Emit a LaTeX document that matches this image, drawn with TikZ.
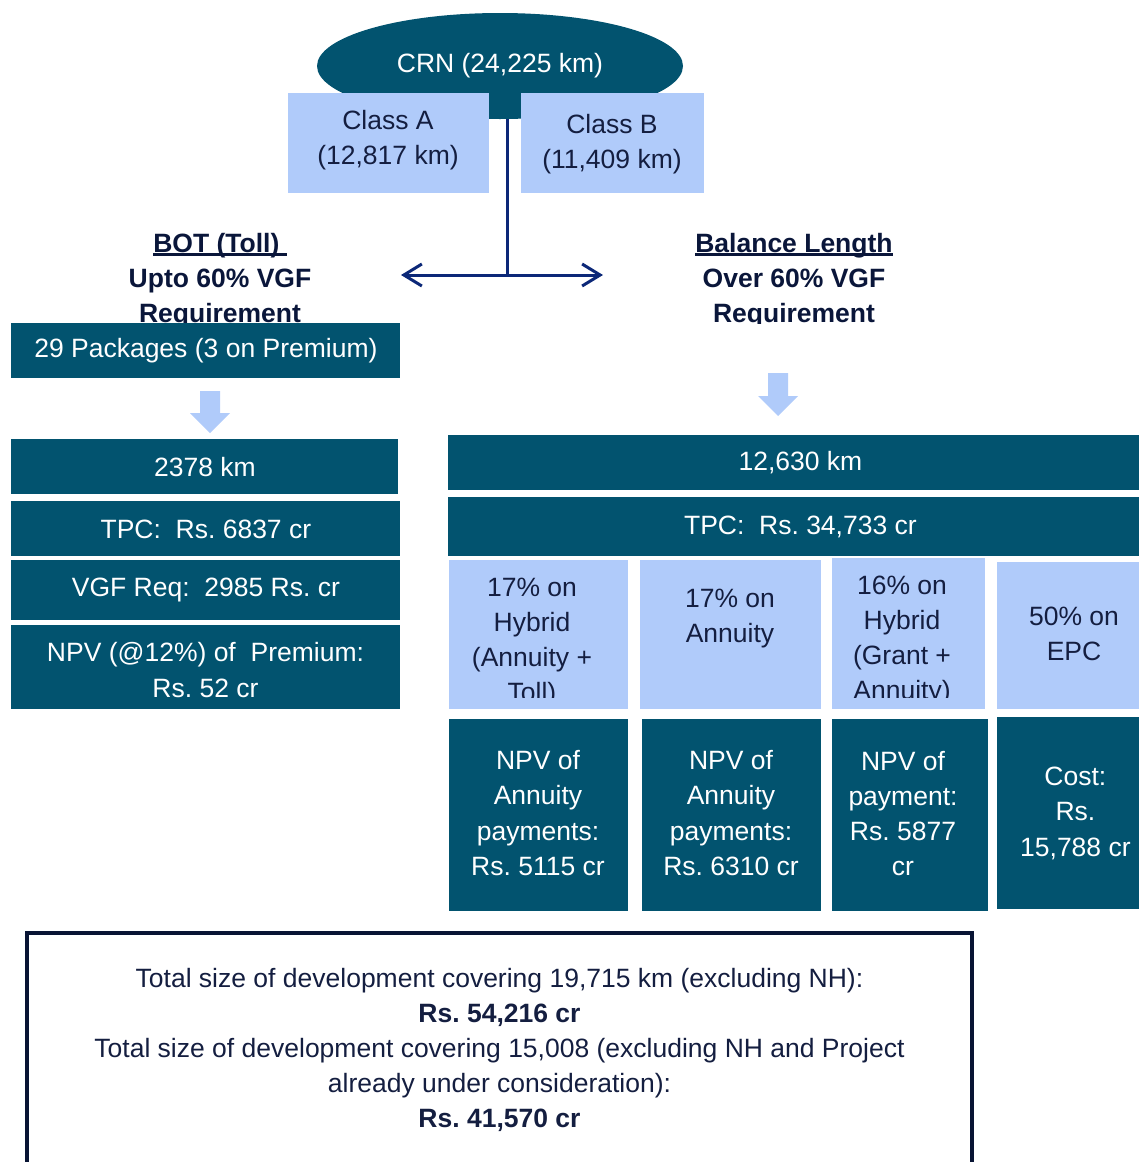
\documentclass[tikz,border=0pt]{standalone}
\usepackage{fontspec}
\setmainfont{Liberation Sans}
\usetikzlibrary{shapes.geometric}
\usetikzlibrary{arrows.meta}

\definecolor{boxteal}{RGB}{2,83,111}
\definecolor{boxblue}{RGB}{176,203,250}
\definecolor{boxtext}{RGB}{20,30,64}
\definecolor{headnavy}{RGB}{10,22,58}
\definecolor{linknavy}{RGB}{12,40,120}
\definecolor{framenavy}{RGB}{8,20,52}

% thick underline for the two headings
\newcommand{\thickul}[1]{\leavevmode\setbox0=\hbox{#1}\rlap{\rule[-2pt]{\wd0}{1.5pt}}\box0}

\begin{document}
\begin{tikzpicture}[
      x=0.5pt, y=-0.5pt,
      every node/.style={font=\fontsize{13.25}{17.6}\selectfont\frenchspacing},
      px_size/.style 2 args={minimum width=#1*0.5pt, minimum height=#2*0.5pt},
      dark_box/.style={rectangle, fill=boxteal, text=white, inner sep=0pt, align=center},
      light_box/.style={rectangle, fill=boxblue, text=boxtext, inner sep=0pt, align=center},
      box_text/.style={text=boxtext, align=center},
      white_text/.style={text=white, align=center},
      head_text/.style={text=headnavy, font=\fontsize{13.25}{17.6}\selectfont\bfseries\frenchspacing, align=center},
      link_line/.style={draw=linknavy, line width=1.5pt},
      block_arrow/.style={fill=boxblue, draw=none}
    ]

    % ------------------------------------------------------------------ %
    % Page frame
    % ------------------------------------------------------------------ %

    \useasboundingbox (0,0) rectangle (1139,1162);
    \clip (0,0) rectangle (1139,1162);

    % ------------------------------------------------------------------ %
    % Network and its two classes
    % ------------------------------------------------------------------ %

    \node[ellipse, fill=boxteal, text=white, inner sep=0pt, px_size={366}{106}] (crn) at (500,66) {CRN (24,225 km)};

    \node[light_box, anchor=north west, px_size={201}{100}] (class_a) at (288,93) {};
    \node[box_text] (class_a_text) at (388,140) {Class A\\(12,817 km)};
    \node[light_box, anchor=north west, px_size={183}{100}] (class_b) at (521,93) {};
    \node[box_text] (class_b_text) at (612,144.5) {Class B\\(11,409 km)};

    % split to both routes
    \coordinate (split) at (507,275);
    \coordinate (to_bot) at (401,275);
    \coordinate (to_bal) at (603,275);
    \draw[link_line] (crn.south -| split) -- (split);
    \draw[link_line, {Straight Barb[length=9pt,width=11pt]}-{Straight Barb[length=9pt,width=11pt]}] (to_bot) -- (to_bal);

    % headings (cut at the top of the package box)
    \begin{scope}
      \clip (0,0) rectangle (1139,323);
      \node[head_text] (bot_head) at (220,280.5) {\thickul{BOT (Toll)\ }\\Upto 60\% VGF\\Requirement};
      \node[head_text] (bal_head) at (794,280.5) {\thickul{Balance Length}\\Over 60\% VGF\\Requirement};
    \end{scope}

    % ------------------------------------------------------------------ %
    % BOT (Toll) column
    % ------------------------------------------------------------------ %

    \node[dark_box, anchor=north west, px_size={389}{55}] (packages) at (11,323) {29 Packages (3 on Premium)};

    \fill[block_arrow] (200,391) -- (220,391) -- (220,413) -- (230,413) -- (210,433) -- (190,413) -- (200,413) -- cycle;

    \node[dark_box, anchor=north west, px_size={387}{55}] (bot_len) at (11,439) {2378 km};
    \node[dark_box, anchor=north west, px_size={389}{55}] (bot_tpc) at (11,501) {TPC:~ Rs. 6837 cr};
    \node[dark_box, anchor=north west, px_size={389}{60}] (bot_vgf) at (11,560) {VGF Req:~ 2985 Rs. cr};
    \node[dark_box, anchor=north west, px_size={389}{84}] (bot_npv) at (11,625) {};
    \node[white_text] (bot_npv_text) at (205.5,670) {NPV (@12\%) of~ Premium:\\Rs. 52 cr};

    % ------------------------------------------------------------------ %
    % Balance length column
    % ------------------------------------------------------------------ %

    \fill[block_arrow] (768,373) -- (788,373) -- (788,396) -- (798,396) -- (778,416) -- (758,396) -- (768,396) -- cycle;

    \node[dark_box, anchor=north west, px_size={704}{55}] (bal_len) at (448,435) {12,630 km};
    \node[dark_box, anchor=north west, px_size={704}{59}] (bal_tpc) at (448,497) {TPC:~ Rs. 34,733 cr};

    % shares
    \node[light_box, anchor=north west, px_size={179}{149}] (share_ht) at (449,560) {};
    \node[light_box, anchor=north west, px_size={181}{149}] (share_an) at (640,560) {};
    \node[light_box, anchor=north west, px_size={153}{151}] (share_ga) at (832,558) {};
    \node[light_box, anchor=north west, px_size={155}{147}] (share_epc) at (997,562) {};
    \node[box_text] (share_epc_text) at (1074,634) {50\% on\\EPC};

    \begin{scope}
      \clip (449,560) rectangle (985,697);
      \node[box_text] (share_ht_text) at (532,642.5) {17\% on\\Hybrid\\(Annuity +\\Toll)};
      \node[box_text] (share_ga_text) at (902,640.5) {16\% on\\Hybrid\\(Grant +\\Annuity)};
    \end{scope}
    \node[box_text] (share_an_text) at (730,618.5) {17\% on\\Annuity};

    % payments
    \node[dark_box, anchor=north west, px_size={179}{192}] (pay_ht) at (449,719) {};
    \node[white_text] (pay_ht_text) at (538,813) {NPV of\\Annuity\\payments:\\Rs. 5115 cr};
    \node[dark_box, anchor=north west, px_size={179}{192}] (pay_an) at (642,719) {};
    \node[white_text] (pay_an_text) at (731,813) {NPV of\\Annuity\\payments:\\Rs. 6310 cr};
    \node[dark_box, anchor=north west, px_size={156}{192}] (pay_ga) at (832,719) {};
    \node[white_text] (pay_ga_text) at (903,813.5) {NPV of\\payment:\\Rs. 5877\\cr};
    \node[dark_box, anchor=north west, px_size={156}{192}] (pay_epc) at (997,717) {Cost:\\Rs.\\15,788 cr};

    % ------------------------------------------------------------------ %
    % Totals
    % ------------------------------------------------------------------ %

    \node[draw=framenavy, line width=2pt, box_text, anchor=north west, px_size={945}{234}] (totals) at (25,931)
      {Total size of development covering 19,715 km (excluding NH):\\\textbf{Rs. 54,216 cr}\\Total size of development covering 15,008 (excluding NH and Project\\already under consideration):\\\textbf{Rs. 41,570 cr}};

    \end{tikzpicture}
\end{document}
